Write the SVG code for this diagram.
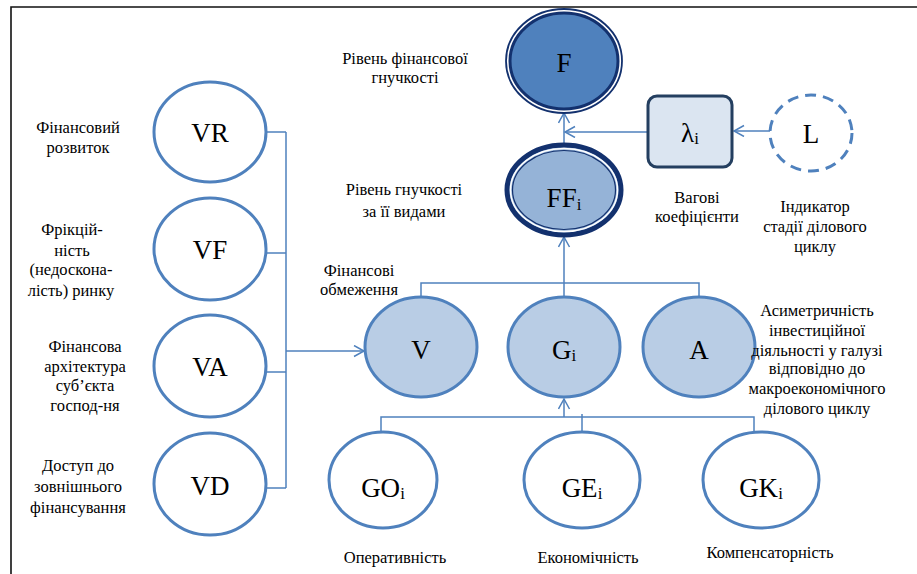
<svg xmlns="http://www.w3.org/2000/svg" width="917" height="574" viewBox="0 0 917 574">
<defs>
<style>
.lbl{font-family:"Liberation Serif","Times New Roman","DejaVu Serif",serif;font-size:16.5px;fill:#000;text-anchor:middle}
.nt{font-family:"Liberation Serif","Times New Roman","DejaVu Serif",serif;font-size:27px;fill:#000;text-anchor:middle}
.sub{font-size:17px}
.conn{fill:none;stroke:#4f81bd;stroke-width:1.5}
.w{fill:#fff;stroke:#4f81bd;stroke-width:3}
.m{fill:#b9cde5;stroke:#4f81bd;stroke-width:3}
</style>
<marker id="arr" markerUnits="userSpaceOnUse" markerWidth="14" markerHeight="14" refX="11" refY="6" orient="auto">
<path d="M1,0.5 L11,6 L1,11.5" fill="none" stroke="#4f81bd" stroke-width="1.5"/>
</marker>
</defs>
<rect width="917" height="574" fill="#fff"/>
<path d="M11,574 V7 H917" fill="none" stroke="#111" stroke-width="1.6"/>

<g id="connectors">
<path class="conn" d="M267,132 H286 M267,253 H286 M267,372 H286 M267,488 H286 M286,132 V488"/>
<path class="conn" d="M286,351 H364" marker-end="url(#arr)"/>
<path class="conn" d="M421,297 V283 H699 V297 M564,283 V297"/>
<path class="conn" d="M564,283 V237" marker-end="url(#arr)"/>
<path class="conn" d="M381,432 V417 H754 V432 M582,414 V432"/>
<path class="conn" d="M564,417 V399" marker-end="url(#arr)"/>
<path class="conn" d="M564,144 V113" marker-end="url(#arr)"/>
<path class="conn" d="M647,132 H565" marker-end="url(#arr)"/>
<path class="conn" d="M770,131 H734" marker-end="url(#arr)"/>
</g>

<g id="node-F">
<ellipse cx="564" cy="61" rx="58" ry="52" fill="#fff" stroke="#13316e" stroke-width="1.8"/>
<ellipse cx="564" cy="61" rx="54" ry="48" fill="#4f81bd" stroke="#13316e" stroke-width="3"/>
<text class="nt" x="564" y="72" font-size="28">F</text>
</g>
<g id="node-FFi">
<ellipse cx="564" cy="190" rx="57" ry="45" fill="#95b3d7" stroke="#13316e" stroke-width="5"/>
<ellipse cx="564" cy="190" rx="53.5" ry="41.5" fill="none" stroke="#fff" stroke-width="1.5"/>
<ellipse cx="564" cy="190" rx="51.5" ry="39.5" fill="none" stroke="#13316e" stroke-width="1.2"/>
<text class="nt" x="564" y="207" font-size="28">FF<tspan class="sub" dy="3">i</tspan></text>
</g>
<g id="node-lambda">
<rect x="648" y="96" width="84" height="71" rx="9" fill="#dbe5f1" stroke="#243f60" stroke-width="3"/>
<text class="nt" x="690" y="142" font-size="25">λ<tspan class="sub" dy="2">i</tspan></text>
</g>
<g id="node-L">
<ellipse cx="811" cy="133" rx="41" ry="38" fill="#fff" stroke="#4f81bd" stroke-width="3" stroke-dasharray="11,7"/>
<text class="nt" x="811" y="143" font-size="25">L</text>
</g>

<g id="node-VR"><ellipse class="w" cx="210" cy="132" rx="56" ry="50"/><text class="nt" x="210" y="142">VR</text></g>
<g id="node-VF"><ellipse class="w" cx="210" cy="249" rx="56" ry="51"/><text class="nt" x="210" y="259">VF</text></g>
<g id="node-VA"><ellipse class="w" cx="210" cy="366" rx="56" ry="51"/><text class="nt" x="210" y="376">VA</text></g>
<g id="node-VD"><ellipse class="w" cx="210" cy="484" rx="56" ry="51"/><text class="nt" x="210" y="495">VD</text></g>

<g id="node-V"><ellipse class="m" cx="421" cy="347" rx="56" ry="50"/><text class="nt" x="421" y="359">V</text></g>
<g id="node-Gi"><ellipse class="m" cx="564" cy="347" rx="56" ry="50"/><text class="nt" x="564" y="359">G<tspan class="sub" dy="2">i</tspan></text></g>
<g id="node-A"><ellipse class="m" cx="699" cy="347" rx="56" ry="50"/><text class="nt" x="699" y="359">A</text></g>

<g id="node-GOi"><ellipse class="w" cx="383" cy="480" rx="54" ry="48"/><text class="nt" x="383" y="497">GO<tspan class="sub" dy="2">i</tspan></text></g>
<g id="node-GEi"><ellipse class="w" cx="582" cy="480" rx="58" ry="48"/><text class="nt" x="582" y="497">GE<tspan class="sub" dy="2">i</tspan></text></g>
<g id="node-GKi"><ellipse class="w" cx="761" cy="480" rx="58" ry="48"/><text class="nt" x="761" y="497">GK<tspan class="sub" dy="2">i</tspan></text></g>

<g id="labels">
<text class="lbl" x="405" y="64">Рівень фінансової</text>
<text class="lbl" x="405" y="83">гнучкості</text>
<text class="lbl" x="404" y="195">Рівень гнучкості</text>
<text class="lbl" x="404" y="217">за її видами</text>
<text class="lbl" x="359" y="276">Фінансові</text>
<text class="lbl" x="359" y="295">обмеження</text>
<text class="lbl" x="697" y="203">Вагові</text>
<text class="lbl" x="697" y="222">коефіцієнти</text>
<text class="lbl" x="815" y="212">Індикатор</text>
<text class="lbl" x="815" y="232">стадії ділового</text>
<text class="lbl" x="815" y="252">циклу</text>
<text class="lbl" x="817" y="316">Асиметричність</text>
<text class="lbl" x="817" y="336">інвестиційної</text>
<text class="lbl" x="817" y="356">діяльності у галузі</text>
<text class="lbl" x="817" y="374">відповідно до</text>
<text class="lbl" x="817" y="394">макроекономічного</text>
<text class="lbl" x="817" y="414">ділового циклу</text>
<text class="lbl" x="78" y="133">Фінансовий</text>
<text class="lbl" x="78" y="153">розвиток</text>
<text class="lbl" x="72" y="235">Фрікцій-</text>
<text class="lbl" x="72" y="256">ність</text>
<text class="lbl" x="71" y="275">(недоскона-</text>
<text class="lbl" x="71" y="296">лість) ринку</text>
<text class="lbl" x="85" y="352">Фінансова</text>
<text class="lbl" x="85" y="372">архітектура</text>
<text class="lbl" x="85" y="391">суб’єкта</text>
<text class="lbl" x="85" y="411">господ-ня</text>
<text class="lbl" x="78" y="471">Доступ до</text>
<text class="lbl" x="78" y="492">зовнішнього</text>
<text class="lbl" x="78" y="513">фінансування</text>
<text class="lbl" x="395" y="563">Оперативність</text>
<text class="lbl" x="588" y="563">Економічність</text>
<text class="lbl" x="770" y="558">Компенсаторність</text>
</g>
</svg>
